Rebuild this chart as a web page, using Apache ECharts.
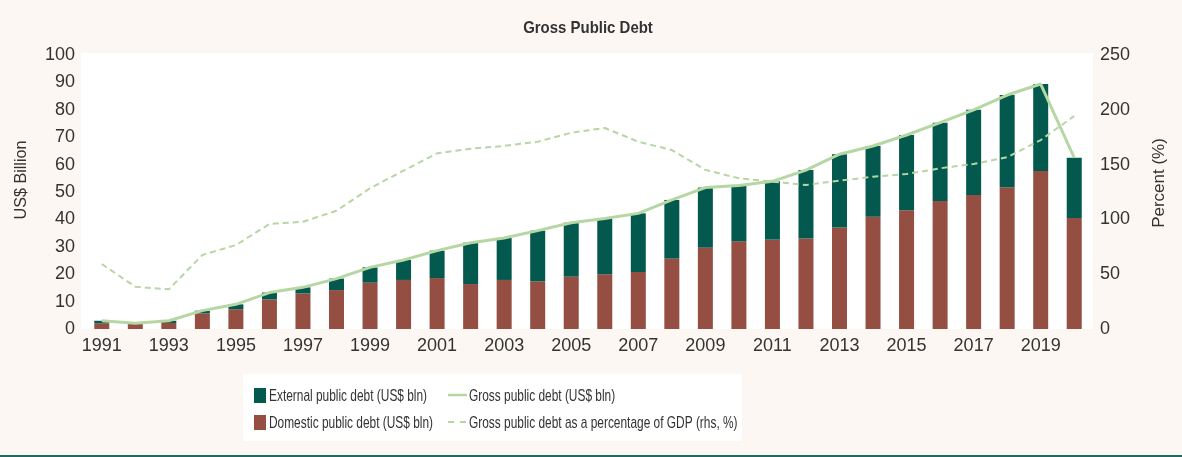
<!DOCTYPE html>
<html>
<head>
<meta charset="utf-8">
<script src="https://cdn.jsdelivr.net/npm/echarts@6/dist/echarts.min.js"></script>
<style>
html,body{margin:0;padding:0;background:#fcf7f3;}
#c{width:1182px;height:457px;}
</style>
</head>
<body>
<div id="c"></div>
<script>
var years = ['1991','1992','1993','1994','1995','1996','1997','1998','1999','2000','2001','2002','2003','2004','2005','2006','2007','2008','2009','2010','2011','2012','2013','2014','2015','2016','2017','2018','2019','2020'];
var domestic = [2.1,1.9,2.2,5.7,7.2,10.8,13.0,14.2,16.9,17.9,18.6,16.4,17.9,17.4,19.1,20.0,20.8,25.7,29.7,32.0,32.6,33.0,37.0,41.0,43.3,46.7,48.9,51.7,57.7,40.5];
var external = [0.9,0.2,0.8,1.0,1.8,2.5,2.2,4.2,5.6,7.3,10.0,15.1,15.3,18.5,19.7,20.3,21.4,21.4,21.9,20.4,21.3,25.0,26.8,25.8,27.5,28.6,31.1,33.7,31.7,22.0];
var gross = [3.0,2.1,3.0,6.7,9.0,13.3,15.2,18.4,22.5,25.2,28.6,31.5,33.2,35.9,38.8,40.3,42.2,47.1,51.6,52.4,53.9,58.0,63.8,66.8,70.8,75.3,80.0,85.4,89.4,62.5];
var pctGDP = [59.3,38.6,36.2,67.5,76.6,95.8,97.9,107.9,128.4,144.5,160.3,164.5,167.0,170.9,179.1,183.4,170.9,163.3,145.2,137.5,134.4,131.4,135.3,139.0,141.4,146.6,150.5,156.7,172.4,194.3];

var names = {
  ext: 'External public debt (US$ bln)',
  dom: 'Domestic public debt (US$ bln)',
  gross: 'Gross public debt (US$ bln)',
  pct: 'Gross public debt as a percentage of GDP (rhs, %)'
};

var C_EXT = '#04594f', C_DOM = '#944f42', C_LINE = '#b6d6a4';
var REG = '"Liberation Sans", Arial, sans-serif';
var TXT = '#333333';
var SX = 0.7; // horizontal squeeze to mimic the narrow typeface

function ltext(x, y, s) {
  return {type:'text', x:x, y:y, scaleX:SX, silent:true,
    style:{text:s, fontFamily:REG, fontSize:17, fill:TXT, align:'left', verticalAlign:'middle'}};
}

var chart = echarts.init(document.getElementById('c'), null, {renderer:'canvas'});
chart.setOption({
  backgroundColor: '#fcf7f3',
  animation: false,
  graphic: [
    {type:'rect', z:-10, silent:true, shape:{x:81,y:53,width:1012,height:276}, style:{fill:'#ffffff'}},
    {type:'rect', z:-10, silent:true, shape:{x:243,y:374,width:499,height:67}, style:{fill:'#ffffff'}},
    {type:'rect', z:-10, silent:true, shape:{x:0,y:455,width:1182,height:2}, style:{fill:'#1d6b63'}},
    {type:'text', x:588, y:28, scaleX:0.88, silent:true,
      style:{text:'Gross Public Debt', fontFamily:REG, fontSize:17, fontWeight:'bold', fill:TXT, align:'center', verticalAlign:'middle'}},
    {type:'text', x:21, y:180, rotation:Math.PI/2, scaleX:0.95, silent:true,
      style:{text:'US$ Billion', fontFamily:REG, fontSize:17, fill:TXT, align:'center', verticalAlign:'middle'}},
    {type:'text', x:1159, y:183, rotation:Math.PI/2, scaleX:1, silent:true,
      style:{text:'Percent (%)', fontFamily:REG, fontSize:17, fill:TXT, align:'center', verticalAlign:'middle'}},
    // legend
    {type:'rect', silent:true, shape:{x:254,y:388,width:12,height:15}, style:{fill:C_EXT}},
    {type:'rect', silent:true, shape:{x:254,y:415,width:12,height:15}, style:{fill:C_DOM}},
    ltext(269, 396, names.ext),
    ltext(269, 423, names.dom),
    {type:'line', silent:true, shape:{x1:448,y1:395,x2:467,y2:395}, style:{stroke:C_LINE, lineWidth:2.5}},
    {type:'line', silent:true, shape:{x1:448,y1:422,x2:467,y2:422}, style:{stroke:C_LINE, lineWidth:2, lineDash:[6,6]}},
    ltext(469, 396, names.gross),
    ltext(469, 423, names.pct)
  ],
  grid: {left: 85, right: 91, top: 55, bottom: 128, containLabel: false},
  legend: {show: false, data: [names.ext, names.dom, names.gross, names.pct]},
  xAxis: {
    type: 'category', data: years,
    axisLine: {show: false}, axisTick: {show: false},
    axisLabel: {interval: 1, margin: 8, fontFamily: REG, fontSize: 18, color: TXT}
  },
  yAxis: [
    {type: 'value', min: 0, max: 100, interval: 10,
      splitLine: {show: false}, axisLine: {show: false}, axisTick: {show: false},
      axisLabel: {margin: 10, fontFamily: REG, fontSize: 18, color: TXT}},
    {type: 'value', min: 0, max: 250, interval: 50, position: 'right',
      splitLine: {show: false}, axisLine: {show: false}, axisTick: {show: false},
      axisLabel: {margin: 9, fontFamily: REG, fontSize: 18, color: TXT}}
  ],
  series: [
    {name: names.dom, type: 'bar', stack: 'd', data: domestic, barWidth: 15,
      itemStyle: {color: C_DOM}},
    {name: names.ext, type: 'bar', stack: 'd', data: external, barWidth: 15,
      itemStyle: {color: C_EXT}},
    {name: names.gross, type: 'line', data: gross, symbol: 'none', z: 5,
      lineStyle: {color: C_LINE, width: 3}, itemStyle: {color: C_LINE}},
    {name: names.pct, type: 'line', yAxisIndex: 1, data: pctGDP, symbol: 'none', z: 5,
      lineStyle: {color: C_LINE, width: 2, type: [6,4]}, itemStyle: {color: C_LINE}}
  ]
});
</script>
</body>
</html>
